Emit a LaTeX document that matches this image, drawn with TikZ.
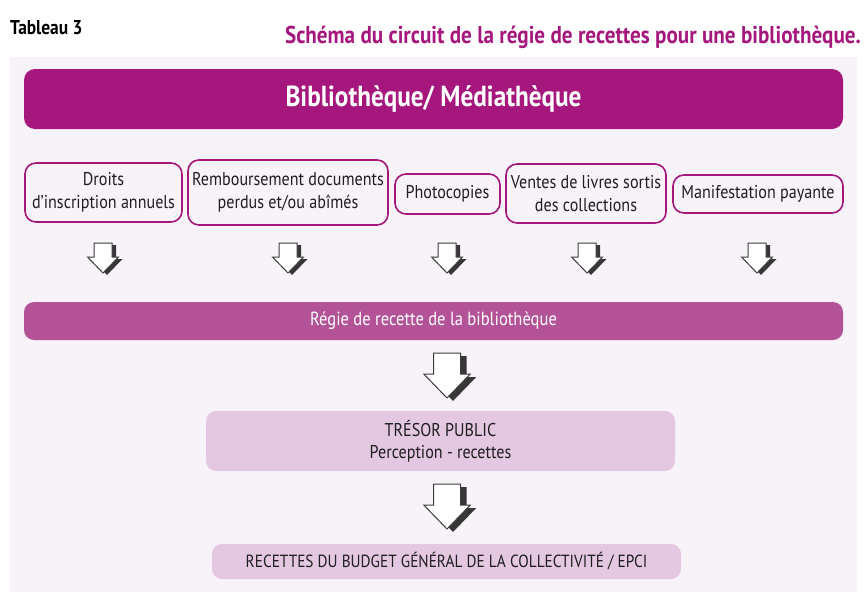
\documentclass[tikz,border=0pt]{standalone}
\usepackage{fontspec}
\setmainfont{PT Sans}[FakeStretch=0.87]
\definecolor{mag}{RGB}{166,23,125}
\definecolor{regie}{RGB}{180,82,152}
\definecolor{pinkbox}{RGB}{228,200,226}
\definecolor{panel}{RGB}{248,243,249}
\definecolor{shadowgray}{RGB}{55,55,55}
\definecolor{arrowline}{RGB}{60,60,60}
\definecolor{txt}{RGB}{30,30,30}
\tikzset{
  srcbox/.style={draw=mag, line width=1.6pt, rounded corners=11pt, fill=panel, align=center, font=\fontsize{18.5}{23}\selectfont, text=txt, inner sep=0pt},
  hdrbox/.style={fill=mag, rounded corners=11pt, text=white, font=\bfseries\fontsize{29}{32}\selectfont, inner sep=0pt},
  regiebox/.style={fill=regie, rounded corners=10pt, text=white, font=\fontsize{19}{22}\selectfont, inner sep=0pt},
  pinkstyle/.style={fill=pinkbox, rounded corners=10pt, text=txt, align=center, font=\fontsize{18.5}{22}\selectfont, inner sep=0pt},
  blockarrow/.pic={
    \fill[shadowgray] (-5,2) -- (13,2) -- (13,16) -- (19.5,16) -- (4,32) -- (-11.5,16) -- (-5,16) -- cycle;
    \draw[fill=white, draw=arrowline, line width=1pt, line join=miter] (-9,0) -- (9,0) -- (9,14) -- (15.5,14) -- (0,30) -- (-15.5,14) -- (-9,14) -- cycle;
  }
}
\begin{document}
\begin{tikzpicture}[x=1pt,y=-1pt]
\useasboundingbox (0,0) rectangle (867,592);
\fill[panel] (10,57) rectangle (857,592);
\node[anchor=west, font=\bfseries\fontsize{20}{22}\selectfont, text=black, inner sep=0pt] (tab) at (10,28) {Tableau 3};
\node[anchor=east, font=\bfseries\fontsize{24.3}{26}\selectfont, text=mag, inner sep=0pt] (title) at (861,37) {Schéma du circuit de la régie de recettes pour une bibliothèque.};
\node[hdrbox, minimum width=819pt, minimum height=60pt] (bib) at (433.5,99) {Bibliothèque/ Médiathèque};
\node[srcbox, minimum width=157pt, minimum height=59pt] (b1) at (103.5,192.5) {Droits\\d’inscription annuels};
\node[srcbox, minimum width=200pt, minimum height=65pt] (b2) at (288,192.5) {Remboursement documents\\perdus et/ou abîmés};
\node[srcbox, minimum width=105pt, minimum height=40pt] (b3) at (447.5,194) {Photocopies};
\node[srcbox, minimum width=160pt, minimum height=59pt] (b4) at (586,193.5) {Ventes de livres sortis\\des collections};
\node[srcbox, minimum width=170pt, minimum height=38pt] (b5) at (758,194) {Manifestation payante};
\node[regiebox, minimum width=819pt, minimum height=38pt] (regie) at (433.5,321) {Régie de recette de la bibliothèque};
\node[pinkstyle, minimum width=469pt, minimum height=60pt] (tresor) at (440.5,441) {TRÉSOR PUBLIC\\Perception - recettes};
\node[pinkstyle, minimum width=469pt, minimum height=35pt, font=\fontsize{17.6}{21}\selectfont] (recettes) at (446.5,561.5) {RECETTES DU BUDGET GÉNÉRAL DE LA COLLECTIVITÉ / EPCI};
\foreach \ax in {103,288,447,587,757} {
  \pic at (\ax,243) {blockarrow};
}
\pic[scale=1.5] at (447,353) {blockarrow};
\pic[scale=1.5] at (447,484) {blockarrow};
\end{tikzpicture}
\end{document}
